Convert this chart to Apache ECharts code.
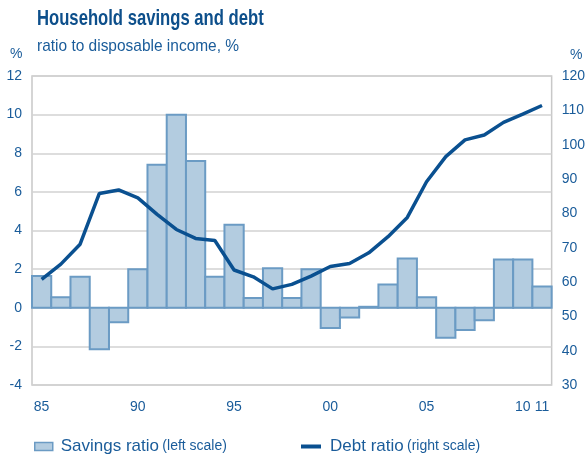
<!DOCTYPE html>
<html>
<head>
<meta charset="utf-8">
<script src="https://cdn.jsdelivr.net/npm/echarts@6/dist/echarts.min.js"></script>
<style>
  html, body { margin: 0; padding: 0; background: #fff; }
  #chart { width: 588px; height: 455px; }
</style>
</head>
<body>
<div id="chart"></div>
<script>
// Years 1985–2011
const years = ['1985','1986','1987','1988','1989','1990','1991','1992','1993','1994',
  '1995','1996','1997','1998','1999','2000','2001','2002','2003','2004',
  '2005','2006','2007','2008','2009','2010','2011'];

// Household savings ratio, % of disposable income (left scale)
const savingsRatio = [1.65, 0.55, 1.6, -2.15, -0.75, 2.0, 7.4, 10.0, 7.6, 1.6,
  4.3, 0.5, 2.05, 0.5, 2.0, -1.05, -0.5, 0.05, 1.2, 2.55,
  0.55, -1.55, -1.15, -0.65, 2.5, 2.5, 1.1];

// Household debt ratio, % of disposable income (right scale)
const debtRatio = [60.8, 65.2, 71.0, 85.8, 86.8, 84.5, 79.7, 75.3, 72.7, 72.1,
  63.5, 61.5, 58.0, 59.3, 61.7, 64.5, 65.4, 68.5, 73.2, 78.8,
  89.2, 96.5, 101.4, 102.8, 106.5, 108.9, 111.4];

// Years that carry a tick label on the horizontal axis
const labelledYears = ['1985','1990','1995','2000','2005','2010','2011'];

const blueText = '#1a5c9a';
const barFill = '#b3cce0';
const barEdge = '#6b9bc4';
const fontFam = "'Liberation Sans', Arial, sans-serif";

// Columns that fill their whole year slot, so neighbours share one edge
function renderColumn(params, api) {
  const cat = api.value(0);
  const base = api.coord([cat, 0]);
  const tip = api.coord([cat, api.value(1)]);
  const w = api.size([1, 0])[0];
  return {
    type: 'rect',
    shape: { x: base[0] - w / 2, y: Math.min(base[1], tip[1]), width: w, height: Math.abs(tip[1] - base[1]) },
    style: { fill: barFill, stroke: barEdge, lineWidth: 2 }
  };
}

const chart = echarts.init(document.getElementById('chart'), null, { renderer: 'canvas' });

chart.setOption({
  animation: false,
  backgroundColor: '#ffffff',
  // Heading texts, horizontally squeezed to get a condensed look
  graphic: [
    { type: 'text', left: 37, top: 8, scaleX: 0.757, originX: 0,
      style: { text: 'Household savings and debt', font: "bold 22px 'Liberation Sans', Arial, sans-serif", fill: '#0d4f8b' } },
    { type: 'text', left: 37, top: 38, scaleX: 0.91, originX: 0,
      style: { text: 'ratio to disposable income, %', font: "17px 'Liberation Sans', Arial, sans-serif", fill: blueText } },
    { type: 'text', left: 10, top: 47,
      style: { text: '%', font: "14px 'Liberation Sans', Arial, sans-serif", fill: blueText } },
    { type: 'text', left: 570, top: 48,
      style: { text: '%', font: "14px 'Liberation Sans', Arial, sans-serif", fill: blueText } }
  ],
  grid: { left: 32, right: 36, top: 76, bottom: 70, show: true, borderColor: '#c8c8c8', borderWidth: 1.5 },
  legend: [
    { data: ['Savings ratio'], left: 29, top: 433, itemWidth: 18, itemHeight: 8, itemGap: 8,
      icon: 'rect',
      itemStyle: { color: barFill, borderColor: barEdge, borderWidth: 1.5 },
      formatter: n => '{a|' + n + '} {b|(left scale)}',
      textStyle: { rich: {
        a: { fontFamily: fontFam, fontSize: 17, color: blueText, padding: [0, 0, 0, 3] },
        b: { fontFamily: fontFam, fontSize: 14, color: blueText } } } },
    { data: ['Debt ratio'], left: 296, top: 433, itemWidth: 20, itemHeight: 4, itemGap: 8,
      icon: 'rect',
      formatter: n => '{a|' + n + '} {b|(right scale)}',
      textStyle: { rich: {
        a: { fontFamily: fontFam, fontSize: 17, color: blueText, padding: [0, 0, 0, 4] },
        b: { fontFamily: fontFam, fontSize: 14, color: blueText } } } }
  ],
  xAxis: {
    type: 'category',
    data: years,
    boundaryGap: true,
    axisLine: { show: false },
    axisTick: { show: false },
    axisLabel: {
      interval: 0,
      margin: 15,
      fontFamily: fontFam, fontSize: 14, color: blueText,
      formatter: v => labelledYears.includes(v) ? v.slice(2) : ''
    }
  },
  yAxis: [
    { type: 'value', min: -4, max: 12, interval: 2, position: 'left',
      axisLine: { show: false }, axisTick: { show: false },
      axisLabel: { margin: 10, fontFamily: fontFam, fontSize: 14, color: blueText },
      splitLine: { lineStyle: { color: '#d2d2d2', width: 1.5 } } },
    { type: 'value', min: 30, max: 120, interval: 10, position: 'right',
      axisLine: { show: false }, axisTick: { show: false },
      axisLabel: { margin: 10, fontFamily: fontFam, fontSize: 14, color: blueText },
      splitLine: { show: false } }
  ],
  series: [
    { name: 'Savings ratio', type: 'custom', yAxisIndex: 0,
      data: years.map((y, i) => [i, savingsRatio[i]]),
      encode: { x: 0, y: 1 },
      renderItem: renderColumn,
      itemStyle: { color: barFill, borderColor: barEdge, borderWidth: 1.5 } },
    { name: 'Debt ratio', type: 'line', yAxisIndex: 1, data: debtRatio,
      showSymbol: false, symbol: 'none', z: 5,
      lineStyle: { color: '#0a5090', width: 3.5 },
      itemStyle: { color: '#0a5090' } }
  ]
});
</script>
</body>
</html>
